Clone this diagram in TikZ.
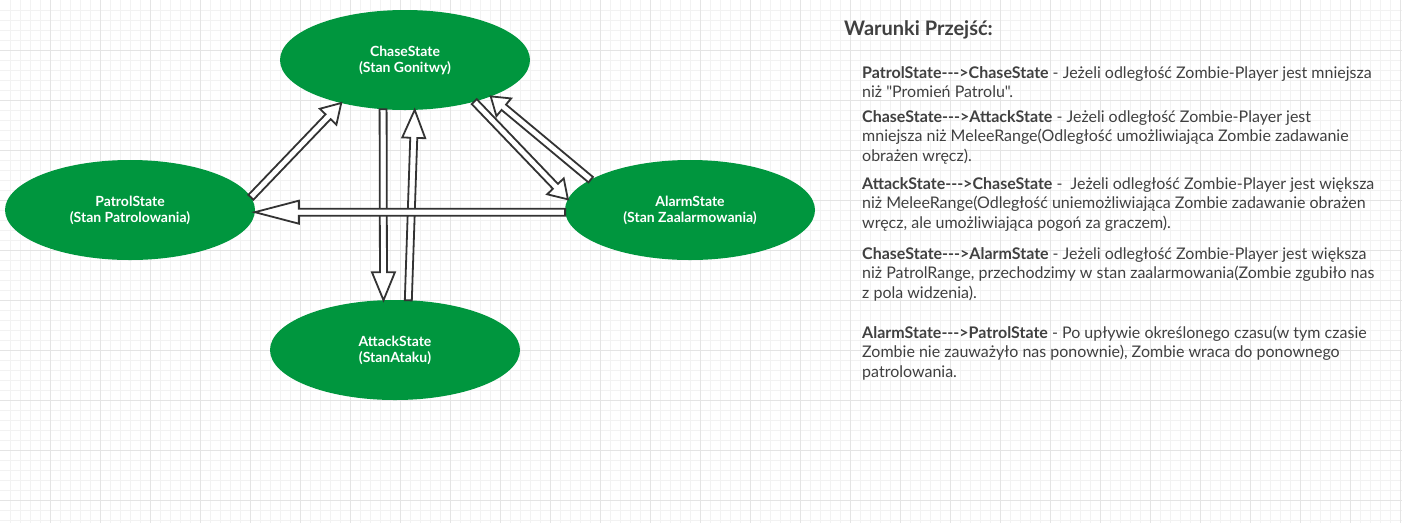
\documentclass[tikz,border=0pt]{standalone}
\usepackage{fontspec}
\setmainfont{Lato}[Ligatures=TeXOff]
\usetikzlibrary{calc,shapes.geometric}
\definecolor{stategreen}{RGB}{0,150,62}
\definecolor{arrowgray}{RGB}{51,51,51}
\definecolor{gridminor}{RGB}{242,242,242}
\definecolor{gridmajor}{RGB}{228,228,228}
\definecolor{textgray}{RGB}{64,64,64}
\tikzset{
  state/.style={ellipse, fill=stategreen, draw=none, minimum width=250pt, minimum height=100pt,
    inner sep=0pt, outer sep=0pt, text=white, font=\bfseries\fontsize{14}{16}\selectfont, align=center},
  barrow/.style={draw=arrowgray, fill=white, line width=1.8pt, line join=miter},
  txt/.style={anchor=base west, inner sep=0pt, text=textgray, font=\fontsize{16}{19}\selectfont},
  header/.style={anchor=base west, inner sep=0pt, text=textgray, font=\bfseries\fontsize{20}{24}\selectfont},
  gridminorline/.style={draw=gridminor, line width=1pt},
  gridmajorline/.style={draw=gridmajor, line width=1pt},
}
% #1 from, #2 to, #3 head length, #4 name
\newcommand\zblockarrow[4]{%
  \coordinate (#4-h) at ($(#2)!#3!(#1)$);
  \draw[barrow] ($(#1)!3.5pt!90:(#2)$) -- ($(#4-h)!3.5pt!-90:(#1)$) -- ($(#4-h)!11.5pt!-90:(#1)$)
    -- (#2) -- ($(#4-h)!11.5pt!90:(#1)$) -- ($(#4-h)!3.5pt!90:(#1)$) -- ($(#1)!3.5pt!-90:(#2)$) -- cycle;
}
\begin{document}
\begin{tikzpicture}[x=1pt,y=-1pt]
\useasboundingbox (0,0) rectangle (1402,523);
\fill[white] (0,0) rectangle (1402,523);
\foreach \x in {10,20,...,1400} \draw[gridminorline] (\x,0) -- (\x,523);
\foreach \y in {10,20,...,520} \draw[gridminorline] (0,\y) -- (1402,\y);
\foreach \x in {50,100,...,1400} \draw[gridmajorline] (\x,0) -- (\x,523);
\foreach \y in {50,100,...,500} \draw[gridmajorline] (0,\y) -- (1402,\y);

\node[state] (chase) at (405,60) {ChaseState\\(Stan Gonitwy)};
\node[state] (patrol) at (130,210) {PatrolState\\(Stan Patrolowania)};
\node[state] (alarm) at (690,210) {AlarmState\\(Stan Zaalarmowania)};
\node[state] (attack) at (395,350) {AttackState\\(StanAtaku)};

\zblockarrow{patrol.6}{chase.214}{19pt}{pc}
\zblockarrow{chase.246}{attack.103.5}{28pt}{ca}
\zblockarrow{attack.75.4}{chase.281.4}{28pt}{ac}
\zblockarrow{chase.329}{alarm.175.3}{18pt}{cal}
\zblockarrow{alarm.163.9}{chase.337.6}{17pt}{alc}
\zblockarrow{alarm.181}{patrol.359}{44pt}{alp}

\node[header] (title) at (844,35) {Warunki Przejść:};

\node[txt] (t1a) at (862,78) {\textbf{PatrolState-{}-{}->ChaseState} - Jeżeli odległość Zombie-Player jest mniejsza};
\node[txt] (t1b) at (862,97.5) {niż "Promień Patrolu".};

\node[txt] (t2a) at (862,122) {\textbf{ChaseState-{}-{}->AttackState} - Jeżeli odległość Zombie-Player jest};
\node[txt] (t2b) at (862,141.5) {mniejsza niż MeleeRange(Odległość umożliwiająca Zombie zadawanie};
\node[txt] (t2c) at (862,161) {obrażen wręcz).};

\node[txt] (t3a) at (862,189) {\textbf{AttackState-{}-{}->ChaseState} -\ \ Jeżeli odległość Zombie-Player jest większa};
\node[txt] (t3b) at (862,208.5) {niż MeleeRange(Odległość uniemożliwiająca Zombie zadawanie obrażen};
\node[txt] (t3c) at (862,228) {wręcz, ale umożliwiająca pogoń za graczem).};

\node[txt] (t4a) at (862,259) {\textbf{ChaseState-{}-{}->AlarmState} - Jeżeli odległość Zombie-Player jest większa};
\node[txt] (t4b) at (862,278.5) {niż PatrolRange, przechodzimy w stan zaalarmowania(Zombie zgubiło nas};
\node[txt] (t4c) at (862,298) {z pola widzenia).};

\node[txt] (t5a) at (862,338) {\textbf{AlarmState-{}-{}->PatrolState} - Po upływie określonego czasu(w tym czasie};
\node[txt] (t5b) at (862,357.5) {Zombie nie zauważyło nas ponownie), Zombie wraca do ponownego};
\node[txt] (t5c) at (862,377) {patrolowania.};
\end{tikzpicture}
\end{document}
